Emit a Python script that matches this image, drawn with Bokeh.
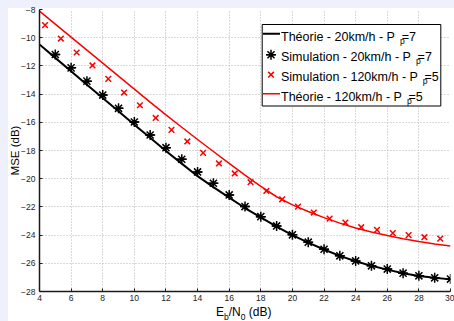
from bokeh.plotting import figure
from bokeh.models import Label, Range1d, FixedTicker, Div
from bokeh.layouts import column
from bokeh.embed import file_html
from bokeh.resources import INLINE

# ---------------- data ----------------
x_theory = [4, 5, 6, 7, 8, 9, 10, 11, 12, 13, 14, 15, 16, 17, 18, 19, 20, 21, 22, 23, 24, 25, 26, 27, 28, 29, 30]
theory_20 = [-10.48, -11.43, -12.38, -13.33, -14.28, -15.22, -16.17, -17.10, -18.03, -18.93, -19.82, -20.60,
             -21.34, -22.08, -22.75, -23.40, -24.00, -24.53, -25.02, -25.47, -25.85, -26.18, -26.45, -26.70,
             -26.90, -27.03, -27.14]
theory_120 = [-8.12, -9.04, -9.96, -10.88, -11.80, -12.73, -13.65, -14.57, -15.47, -16.35, -17.22, -18.07,
              -18.92, -19.75, -20.55, -21.28, -21.86, -22.33, -22.76, -23.15, -23.49, -23.78, -24.03, -24.26,
              -24.46, -24.63, -24.77]

x_sim_20 = [5, 6, 7, 8, 9, 10, 11, 12, 13, 14, 15, 16, 17, 18, 19, 20, 21, 22, 23, 24, 25, 26, 27, 28, 29, 30]
sim_20 = [-11.19, -12.14, -13.08, -14.07, -15.01, -15.98, -16.90, -17.80, -18.62, -19.52, -20.32, -21.15,
          -21.98, -22.69, -23.35, -23.98, -24.50, -25.00, -25.47, -25.83, -26.18, -26.41, -26.70, -26.89,
          -27.03, -27.12]

x_sim_120 = [4.35, 5.35, 6.35, 7.35, 8.35, 9.35, 10.35, 11.35, 12.35, 13.35, 14.35, 15.35, 16.35, 17.35,
             18.35, 19.35, 20.35, 21.35, 22.35, 23.35, 24.35, 25.35, 26.35, 27.35, 28.35, 29.35]
sim_120 = [-9.11, -10.06, -11.05, -11.97, -12.92, -13.89, -14.79, -15.69, -16.54, -17.36, -18.17, -18.92,
           -19.63, -20.25, -20.87, -21.46, -21.98, -22.40, -22.83, -23.11, -23.44, -23.63, -23.86, -24.00,
           -24.15, -24.25]

x_ticks = [4, 6, 8, 10, 12, 14, 16, 18, 20, 22, 24, 26, 28, 30]
y_ticks = [-28, -26, -24, -22, -20, -18, -16, -14, -12, -10, -8]

legend_labels = ["Théorie - 20km/h - P", "Simulation - 20km/h - P",
                 "Simulation - 120km/h - P", "Théorie - 120km/h - P"]
legend_values = ["=7", "=7", "=5", "=5"]

# ---------------- layout helpers (page pixels -> data) ----------------
FL, FR, FT, FB = 39.0, 450.0, 9.0, 291.0
XMIN, XMAX, YMIN, YMAX = 4, 30, -28, -8


def fx(px):
    return XMIN + (px - FL) * (XMAX - XMIN) / (FR - FL)


def fy(py):
    return YMAX - (py - FT) * (YMAX - YMIN) / (FB - FT)


WID = {'T': 611, 'h': 556, 'é': 556, 'o': 556, 'r': 333, 'i': 222, 'e': 556, ' ': 278, '-': 333,
       'k': 500, 'm': 833, '/': 278, 'P': 667, 'S': 667, 'u': 556, 'l': 222, 'a': 556, 't': 278,
       'n': 556, '=': 584, 'p': 556, 'E': 667, 'N': 722, 'b': 556, '(': 333, ')': 333, 'd': 556,
       'B': 667, 'M': 833}


def tw(s, size):
    return sum(WID.get(c, 556) for c in s) * size / 1000.0


FONT = "Liberation Sans"

p = figure(width=454, height=305, output_backend="svg", toolbar_location=None,
           x_range=Range1d(XMIN, XMAX), y_range=Range1d(YMIN, YMAX),
           min_border_left=39, min_border_right=4, min_border_top=9, min_border_bottom=14)
p.outline_line_color = None
p.background_fill_color = "white"
p.border_fill_color = None

p.xaxis.ticker = FixedTicker(ticks=x_ticks)
p.yaxis.ticker = FixedTicker(ticks=y_ticks)
for ax in (p.xaxis, p.yaxis):
    ax.axis_line_color = "#1a1a1a"
    ax.axis_line_width = 1.5
    ax.major_tick_in = 3
    ax.major_tick_out = 0
    ax.major_tick_line_color = "#1a1a1a"
    ax.minor_tick_line_color = None
    ax.major_label_text_font = FONT
    ax.major_label_text_font_size = "8.5px"
    ax.major_label_text_color = "#222222"
p.xaxis.major_label_standoff = 3
p.yaxis.major_label_standoff = 4
p.yaxis.axis_label = "MSE (dB)"
p.yaxis.axis_label_text_font = FONT
p.yaxis.axis_label_text_font_size = "11.5px"
p.yaxis.axis_label_text_font_style = "normal"
p.yaxis.axis_label_text_color = "black"
p.yaxis.axis_label_standoff = -3

p.grid.grid_line_color = "#b4b4b4"
p.grid.grid_line_dash = "1 2"
p.grid.grid_line_width = 1

# legend box (above the grid)
p.quad(left=[fx(261.7)], right=[fx(440.3)], top=[fy(24)], bottom=[fy(105.5)],
       fill_color="white", line_color="black", line_width=1)

# data
p.line(x_theory, theory_120, line_color="#ff0000", line_width=1.5)
p.line(x_theory, theory_20, line_color="black", line_width=2)
p.scatter(x_sim_20, sim_20, marker="asterisk", size=10, line_color="black", line_width=1.5)
p.scatter(x_sim_20, sim_20, marker="dash", size=9, line_color="black", line_width=1.5)
p.scatter(x_sim_120, sim_120, marker="x", size=8, line_color="#ff0000", line_width=1.5)

# legend content
rows = [31.7, 51.7, 71.7, 91.7]
LFS = 12.5
SFS = 8.5
p.line([fx(262.5), fx(279.5)], [fy(rows[0] + 1.5)] * 2, line_color="black", line_width=2)
p.scatter([fx(270.5)], [fy(rows[1] + 2.5)], marker="asterisk", size=10, line_color="black", line_width=1.5)
p.scatter([fx(270.5)], [fy(rows[1] + 2.5)], marker="dash", size=9, line_color="black", line_width=1.5)
p.scatter([fx(270.5)], [fy(rows[2] + 2.5)], marker="x", size=8, line_color="#ff0000", line_width=1.5)
p.line([fx(262.5), fx(279.5)], [fy(rows[3] + 1.5)] * 2, line_color="#ff0000", line_width=1.5)

TX = 280.5
for rc, lab, val in zip(rows, legend_labels, legend_values):
    end = TX + tw(lab, LFS)
    p.add_layout(Label(x=fx(TX), y=fy(rc + 4.5), text=lab, text_font=FONT,
                       text_font_size=f"{LFS}px", text_baseline="alphabetic", text_align="left",
                       text_color="black"))
    p.add_layout(Label(x=fx(end + 5), y=fy(rc + 8.5), text="p", text_font=FONT,
                       text_font_size=f"{SFS}px", text_baseline="alphabetic", text_align="left",
                       text_color="black"))
    p.add_layout(Label(x=fx(end + 6.7), y=fy(rc + 4.5), text=val, text_font=FONT,
                       text_font_size=f"{LFS}px", text_baseline="alphabetic", text_align="left",
                       text_color="black"))

# x axis label E_b/N_0 (dB) with real subscripts, in a strip under the figure
sub = "font-size:8.5px;position:relative;top:3.5px;"
xlabel_html = (
    '<div style="position:relative;width:454px;height:16px;margin:0;padding:0;">'
    '<span style="position:absolute;left:216px;top:1px;font-family:\'Liberation Sans\';'
    'font-size:12px;line-height:12px;white-space:nowrap;color:black;">'
    'E<span style="' + sub + '">b</span>/N<span style="' + sub + '">0</span> (dB)</span></div>'
)
xlabel = Div(text=xlabel_html, width=454, height=16, margin=0)

layout = column(p, xlabel, spacing=0)

html = file_html(layout, INLINE)
css = ("<style>html,body{margin:0;padding:0;background:"
       "linear-gradient(to bottom,#eef0fb 0,#eef0fb 8px,transparent 8px),"
       "linear-gradient(to right,#eef0fb 0,#eef0fb 8px,#ffffff 8px) !important;}</style>")
html = html.replace("</head>", css + "</head>", 1)
open("out.html", "w").write(html)
